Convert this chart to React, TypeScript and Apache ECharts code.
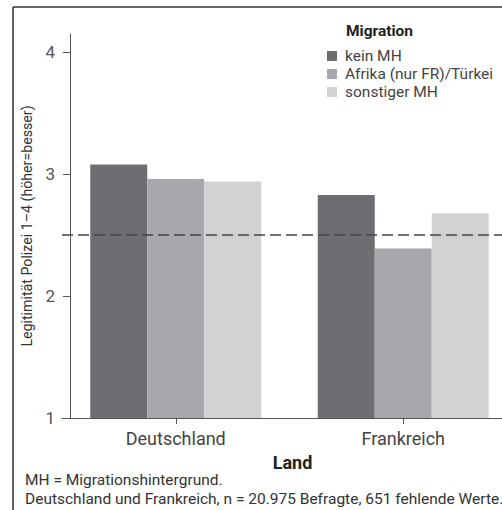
import React, { useEffect, useRef } from "react";
import * as echarts from "echarts";

const countries = ["Deutschland", "Frankreich"];
const seriesNames = ["kein MH", "Afrika (nur FR)/Türkei", "sonstiger MH"];
const keinMH = [3.08, 2.83];
const afrikaTuerkei = [2.96, 2.39];
const sonstigerMH = [2.94, 2.68];
const referenceValue = 2.5;
const yTicks = [1, 2, 3, 4];
const yAxisTitle = "Legitimität Polizei 1–4 (höher=besser)";
const xAxisTitle = "Land";
const legendTitle = "Migration";
const footnotes = [
  "MH = Migrationshintergrund.",
  "Deutschland und Frankreich, n = 20.975 Befragte, 651 fehlende Werte.",
];

const colors = ["#6d6e71", "#a7a8ab", "#d1d2d4"];
const FONT = "Roboto, 'Noto Sans', sans-serif";

export default function App() {
  const ref = useRef<HTMLDivElement>(null);
  useEffect(() => {
    if (!ref.current) return;
    const chart = echarts.init(ref.current, null, { renderer: "svg" });
    const values = [keinMH, afrikaTuerkei, sonstigerMH];
    chart.setOption({
      animation: false,
      textStyle: { fontFamily: FONT },
      grid: {
        left: 62,
        width: 455,
        top: 34,
        bottom: 92,
        containLabel: false,
        outerBoundsMode: "none",
      },
      legend: {
        orient: "vertical",
        left: 322,
        top: 43,
        itemWidth: 10,
        itemHeight: 10,
        itemGap: 2,
        icon: "rect",
        data: seriesNames,
        textStyle: { fontSize: 15.5, color: "#444", fontFamily: FONT, padding: [0, 0, 0, 3] },
      },
      xAxis: {
        type: "category",
        data: countries,
        axisLine: { show: true, lineStyle: { color: "#555", width: 1 } },
        axisTick: { show: true, alignWithLabel: true, length: 6, lineStyle: { color: "#555" } },
        axisLabel: { fontSize: 18, color: "#444", margin: 11, fontFamily: FONT },
        name: xAxisTitle,
        nameLocation: "middle",
        nameGap: 35,
        nameTextStyle: {
          fontSize: 18,
          fontWeight: "bold",
          color: "#222",
          fontFamily: FONT,
          padding: [0, 0, 0, 6],
        },
      },
      yAxis: {
        type: "value",
        min: 1,
        max: 4.15,
        interval: 1,
        offset: -8,
        axisLine: { show: true, lineStyle: { color: "#555", width: 1 } },
        axisTick: { show: true, length: 7, customValues: yTicks, lineStyle: { color: "#555" } },
        axisLabel: { fontSize: 17, color: "#555", margin: 15, customValues: yTicks, fontFamily: FONT },
        splitLine: { show: false },
        name: yAxisTitle,
        nameLocation: "middle",
        nameGap: 36,
        nameTextStyle: { fontSize: 14.2, color: "#333", fontFamily: FONT },
      },
      series: seriesNames.map((name, i) => ({
        name,
        type: "bar",
        data: values[i],
        barWidth: 57,
        barGap: "0%",
        itemStyle: { color: colors[i] },
        markLine:
          i === 0
            ? {
                silent: true,
                symbol: "none",
                label: { show: false },
                lineStyle: { color: "#444", width: 1.5, type: [11, 5] },
                data: [{ yAxis: referenceValue }],
              }
            : undefined,
      })),
      graphic: [
        {
          type: "line",
          shape: { x1: 13, y1: 7, x2: 502, y2: 7 },
          style: { stroke: "#333", lineWidth: 1.5 },
        },
        {
          type: "line",
          shape: { x1: 13, y1: 7, x2: 13, y2: 510 },
          style: { stroke: "#333", lineWidth: 1.5 },
        },
        {
          type: "text",
          left: 346,
          top: 23,
          style: { text: legendTitle, fontSize: 15.5, fontWeight: "bold", fill: "#222", fontFamily: FONT },
        },
        {
          type: "text",
          left: 25,
          top: 472,
          style: { text: footnotes[0], fontSize: 15.5, fill: "#333", fontFamily: FONT },
        },
        {
          type: "text",
          left: 25,
          top: 491,
          style: { text: footnotes[1], fontSize: 15.5, fill: "#333", fontFamily: FONT },
        },
      ],
    });
    return () => chart.dispose();
  }, []);
  return (
    <div
      ref={ref}
      style={{ position: "fixed", left: 0, top: 0, width: 502, height: 510, background: "#fff" }}
    />
  );
}
